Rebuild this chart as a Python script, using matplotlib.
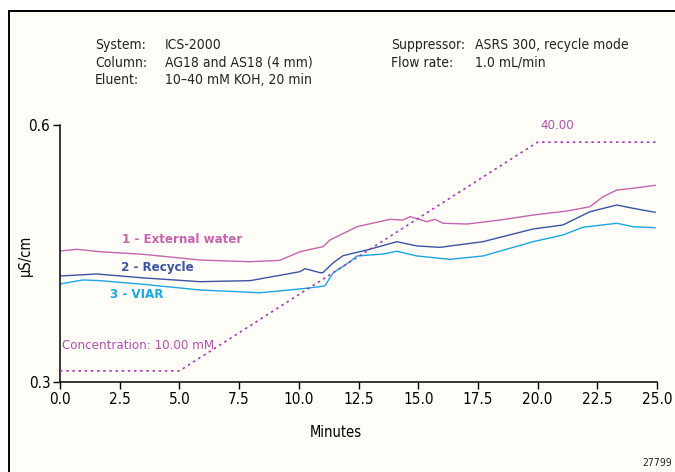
import matplotlib
matplotlib.use("Agg")
import matplotlib.pyplot as plt
from matplotlib import font_manager
from matplotlib.patches import Rectangle

# the original uses a condensed sans; take a narrow face if one is installed
narrow = [f for f in font_manager.fontManager.ttflist
          if ("Narrow" in f.name or "Condensed" in f.name
              or f.stretch in ("condensed", "semi-condensed"))]
if narrow:
    FONT = [narrow[0].name, "DejaVu Sans"]
    STRETCH = narrow[0].stretch
else:
    FONT = ["Liberation Sans", "DejaVu Sans"]
    STRETCH = "normal"
plt.rcParams["font.family"] = FONT
plt.rcParams["font.stretch"] = STRETCH

# traces (minutes, uS/cm)
ext_t = [0.0, 0.7, 1.68, 3.5, 5.86, 7.96, 9.2, 10.05, 11.01, 11.31, 12.44,
         13.82, 14.36, 14.66, 15.37, 15.70, 16.04, 17.04, 18.43, 19.81,
         21.23, 22.19, 22.74, 23.32, 23.99, 24.92]
ext_v = [0.4529, 0.4549, 0.4521, 0.4490, 0.4424, 0.4404, 0.4420, 0.4521,
         0.4580, 0.4658, 0.4813, 0.4899, 0.4891, 0.4930, 0.4871, 0.4899,
         0.4853, 0.4844, 0.4891, 0.4949, 0.4996, 0.5046, 0.5163, 0.5241,
         0.5261, 0.5296]

rec_t = [0.0, 1.54, 3.5, 5.86, 7.96, 9.5, 10.05, 10.26, 10.89, 11.01,
         11.43, 11.85, 12.14, 12.86, 14.11, 14.95, 15.91, 17.71, 19.81,
         21.06, 22.19, 23.32, 23.99, 24.92]
rec_v = [0.4237, 0.4261, 0.4215, 0.4171, 0.4183, 0.4260, 0.4288, 0.4323,
         0.4276, 0.4276, 0.4389, 0.4474, 0.4494, 0.4541, 0.4638, 0.4588,
         0.4572, 0.4638, 0.4786, 0.4833, 0.4988, 0.5066, 0.5028, 0.4981]

viar_t = [0.0, 0.96, 1.68, 3.5, 5.86, 8.38, 10.05, 10.89, 11.10, 11.43,
          12.14, 12.44, 13.53, 14.11, 14.95, 16.33, 17.71, 19.81, 21.06,
          21.90, 23.32, 23.99, 24.92]
viar_v = [0.4144, 0.4191, 0.4183, 0.4140, 0.4074, 0.4042, 0.4086, 0.4113,
          0.4124, 0.4272, 0.4404, 0.4471, 0.4494, 0.4526, 0.4471, 0.4432,
          0.4471, 0.4638, 0.4716, 0.4806, 0.4853, 0.4813, 0.4801]

# eluent gradient (minutes, mM KOH)
grad_t = [0.0, 5.0, 20.0, 25.0]
grad_c = [10.0, 10.0, 40.0, 40.0]

x_ticks = [0.0, 2.5, 5.0, 7.5, 10.0, 12.5, 15.0, 17.5, 20.0, 22.5, 25.0]
y_ticks = [0.3, 0.6]

PINK = "#c464ae"
BLUE = "#3b53a4"
CYAN = "#1aa7e0"
GRAD = "#a43cb2"
BG = "#fffdf7"

fig = plt.figure(figsize=(6.75, 4.72), dpi=100)
fig.patch.set_facecolor("white")
frame = Rectangle((8.5 / 675, -0.01), 1.0, 1 - 11 / 472 + 0.01,
                  transform=fig.transFigure, facecolor=BG,
                  edgecolor="black", linewidth=1.4, zorder=-10)
fig.patches.append(frame)

ax = fig.add_axes([60 / 675, 1 - 382 / 472, 597 / 675, 257 / 472])
ax.set_facecolor("none")
ax.plot(ext_t, ext_v, color=PINK, lw=1.0)
ax.plot(rec_t, rec_v, color=BLUE, lw=1.0)
ax.plot(viar_t, viar_v, color=CYAN, lw=1.0)
ax.set_xlim(0, 25)
ax.set_ylim(0.3, 0.6)
ax.set_xticks(x_ticks)
ax.set_xticklabels([f"{t:.1f}" for t in x_ticks])
ax.set_yticks(y_ticks)
ax.set_yticklabels([f"{v:.1f}" for v in y_ticks])
ax.tick_params(labelsize=11, length=5, width=1, pad=2)
for side in ["top", "right"]:
    ax.spines[side].set_visible(False)
for side in ["left", "bottom"]:
    ax.spines[side].set_linewidth(1.1)
ax.set_xlabel("Minutes", fontsize=10.5)
ax.xaxis.set_label_coords(0.462, -0.168)
ax.set_ylabel("µS/cm", fontsize=10.5)
ax.yaxis.set_label_coords(-0.045, 0.494)

ax.text(5.13, 0.4658, "1 - External water", color=PINK, fontsize=9.5,
        fontweight="bold", ha="center", va="center")
ax.text(4.08, 0.4339, "2 - Recycle", color=BLUE, fontsize=9.5,
        fontweight="bold", ha="center", va="center")
ax.text(3.22, 0.4016, "3 - VIAR", color=CYAN, fontsize=9.5,
        fontweight="bold", ha="center", va="center")

# gradient on its own hidden scale
ax2 = ax.twinx()
ax2.plot(grad_t, grad_c, color=GRAD, lw=1.2, ls=(0, (1.5, 2.2)))
ax2.set_ylim(8.54, 42.25)
ax2.axis("off")
ax2.text(0.1, 13.3, "Concentration: 10.00 mM", color="#b052ac",
         fontsize=9.5, ha="left", va="center")
ax2.text(20.1, 41.3, "40.00", color="#b052ac", fontsize=9.5,
         ha="left", va="bottom")

# conditions block
hdr = [
    (95, 45, "System:"), (165, 45, "ICS-2000"),
    (95, 63, "Column:"), (165, 63, "AG18 and AS18 (4 mm)"),
    (95, 80, "Eluent:"), (165, 80, "10–40 mM KOH, 20 min"),
    (391, 45, "Suppressor:"), (475, 45, "ASRS 300, recycle mode"),
    (391, 63, "Flow rate:"), (475, 63, "1.0 mL/min"),
]
for x, y, s in hdr:
    fig.text(x / 675, 1 - y / 472, s, fontsize=10, ha="left",
             va="center", color="#222222")

fig.text(672 / 675, 1 - 463 / 472, "27799", fontsize=7.5, ha="right",
         va="center", color="#222222")

fig.savefig("out.png", dpi=100, facecolor=fig.get_facecolor())
